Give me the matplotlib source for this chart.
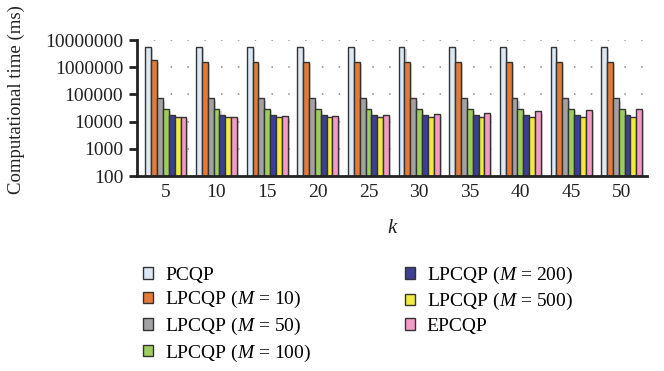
import numpy as np
import matplotlib
matplotlib.use('Agg')
import matplotlib.pyplot as plt
import matplotlib.patches as mpatches
import matplotlib.patheffects as pe
from matplotlib.ticker import FixedLocator, NullLocator

# Computation time (ms) per method for each value of k
K_VALUES = [5, 10, 15, 20, 25, 30, 35, 40, 45, 50]
PCQP = [5.5e6] * 10
LPCQP_M10 = [1.9e6, 1.55e6, 1.55e6, 1.55e6, 1.55e6, 1.55e6, 1.55e6, 1.55e6, 1.55e6, 1.55e6]
LPCQP_M50 = [7.1e4] * 10
LPCQP_M100 = [2.9e4] * 10
LPCQP_M200 = [1.8e4] * 10
LPCQP_M500 = [1.5e4] * 10
EPCQP = [1.5e4, 1.5e4, 1.58e4, 1.65e4, 1.78e4, 1.9e4, 2.1e4, 2.35e4, 2.6e4, 2.95e4]

SERIES = [PCQP, LPCQP_M10, LPCQP_M50, LPCQP_M100, LPCQP_M200, LPCQP_M500, EPCQP]
LABELS = ['PCQP', r'LPCQP ($M$ = 10)', r'LPCQP ($M$ = 50)', r'LPCQP ($M$ = 100)',
          r'LPCQP ($M$ = 200)', r'LPCQP ($M$ = 500)', 'EPCQP']
COLORS = ['#dce8f4', '#e37a37', '#a2a2a4', '#9ccd5e', '#3b3f95', '#f1ea3d', '#f39bc6']
Y_TICKS = [100, 1000, 10000, 100000, 1000000, 10000000]

plt.rcParams['font.family'] = 'Liberation Serif'
plt.rcParams['mathtext.fontset'] = 'custom'
plt.rcParams['mathtext.it'] = 'Liberation Serif:italic'
plt.rcParams['mathtext.rm'] = 'Liberation Serif'

fig = plt.figure(figsize=(6.64, 3.71), dpi=100)
ax = fig.add_axes([137 / 664, 1 - 176 / 371, 510 / 664, 136 / 371])

x = np.arange(len(K_VALUES))
n = len(SERIES)
width = 0.81 / n
shadow = [pe.SimplePatchShadow(offset=(1.5, -1.5), shadow_rgbFace='#888888', alpha=0.35), pe.Normal()]

for i, (vals, color) in enumerate(zip(SERIES, COLORS)):
    pos = x + (i - (n - 1) / 2) * width
    bars = ax.bar(pos, vals, width, bottom=100, color=color, edgecolor='#333333',
                  linewidth=1.0, zorder=3)
    for b in bars:
        b.set_path_effects(shadow)

ax.set_yscale('log')
ax.set_ylim(100, 1e7)
ax.set_xlim(-0.57, 9.5)
ax.yaxis.set_major_locator(FixedLocator(Y_TICKS))
ax.yaxis.set_minor_locator(NullLocator())
ax.set_yticklabels([str(t) for t in Y_TICKS])
ax.set_xticks(x)
ax.set_xticklabels([str(k) for k in K_VALUES])

# dotted guide lines at each decade above the baseline
for t in Y_TICKS[1:]:
    ax.axhline(t, color='#888888', linestyle=(0, (1, 10)), linewidth=1.1, zorder=0)

for side in ['top', 'right']:
    ax.spines[side].set_visible(False)
ax.spines['left'].set_linewidth(2)
ax.spines['bottom'].set_linewidth(2)
ax.spines['left'].set_color('#222222')
ax.spines['bottom'].set_color('#222222')
ax.spines['bottom'].set_zorder(5)
ax.tick_params(axis='y', direction='out', length=6, width=2, labelsize=14, pad=4, colors='#222222')
ax.tick_params(axis='x', length=0, labelsize=14, pad=6, colors='#222222')

fig.text(393 / 664, 1 - 228 / 371, r'$k$', fontsize=15, ha='center', va='center', color='#222222')
fig.text(16 / 664, 1 - 100 / 371, 'Computational time (ms)', rotation=90, fontsize=13.5,
         ha='center', va='center', color='#222222')

handles = [mpatches.Patch(facecolor=c, edgecolor='#333333', linewidth=1.0) for c in COLORS]
fig.legend(handles, LABELS, loc='upper left', bbox_to_anchor=(135 / 664, 1 - 257 / 371),
           ncol=2, frameon=False, fontsize=14, handlelength=0.55, handleheight=0.55,
           handletextpad=0.6, columnspacing=4.8, labelspacing=0.28, borderaxespad=0)

fig.savefig('out.png', dpi=100)
